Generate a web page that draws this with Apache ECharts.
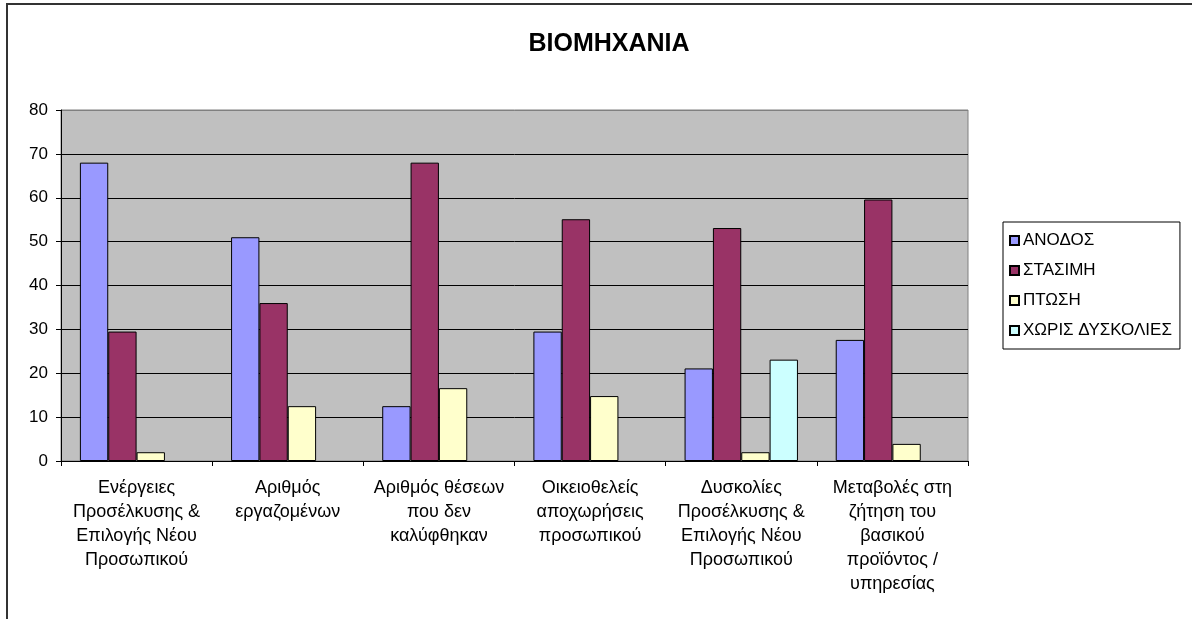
<!DOCTYPE html>
<html>
<head>
<meta charset="utf-8">
<script src="https://cdn.jsdelivr.net/npm/echarts@6/dist/echarts.min.js"></script>
<style>
html,body{margin:0;padding:0;background:#fff;}
#chart{width:1192px;height:619px;}
</style>
</head>
<body>
<div id="chart"></div>
<script>
// data
var categories = [
  'Ενέργειες\nΠροσέλκυσης &\nΕπιλογής Νέου\nΠροσωπικού',
  'Αριθμός\nεργαζομένων',
  'Αριθμός θέσεων\nπου δεν\nκαλύφθηκαν',
  'Οικειοθελείς\nαποχωρήσεις\nπροσωπικού',
  'Δυσκολίες\nΠροσέλκυσης &\nΕπιλογής Νέου\nΠροσωπικού',
  'Μεταβολές στη\nζήτηση του\nβασικού\nπροϊόντος /\nυπηρεσίας'
]
var anodos = [68, 51, 12.5, 29.5, 21.1, 27.6]
var stasimi = [29.5, 36, 68, 55.1, 53.1, 59.6]
var ptosi = [2, 12.5, 16.6, 14.8, 2, 3.9]
var xorisDyskolies = [null, null, null, null, 23.1, null]
var yTicks = [0, 10, 20, 30, 40, 50, 60, 70, 80]

var font = 'Liberation Sans, Arial, sans-serif'

function barSeries (name, data, color) {
  return {
    name: name,
    type: 'bar',
    data: data,
    barGap: 0,
    barCategoryGap: '25%',
    itemStyle: {color: color, borderColor: '#000', borderWidth: 1}
  }
}

// gridlines black, top one grey like the plot border
var gridColors = yTicks.map(function (t, i) { return i === yTicks.length - 1 ? '#808080' : '#000' })

var chart = echarts.init(document.getElementById('chart'))
chart.setOption({
  animation: false,
  backgroundColor: '#fff',
  textStyle: {fontFamily: font},
  graphic: [{
    type: 'rect',
    shape: {x: 7, y: 4, width: 1200, height: 700},
    style: {fill: 'none', stroke: '#333', lineWidth: 2},
    silent: true
  }],
  title: {
    text: 'ΒΙΟΜΗΧΑΝΙΑ',
    left: 604,
    top: 27,
    textAlign: 'center',
    textStyle: {fontFamily: font, fontSize: 25, fontWeight: 'bold', color: '#000'}
  },
  legend: {
    orient: 'vertical',
    left: 1003,
    top: 222,
    padding: [10, 8, 10, 6],
    borderColor: '#000',
    borderWidth: 1,
    itemWidth: 9,
    itemHeight: 9,
    itemGap: 13,
    icon: 'rect',
    textStyle: {fontFamily: font, fontSize: 17, color: '#000', padding: [0, 0, 0, -1]}
  },
  grid: {
    left: 61,
    right: 224,
    top: 110,
    bottom: 158,
    show: true,
    backgroundColor: '#C0C0C0',
    borderColor: '#808080',
    borderWidth: 1
  },
  xAxis: {
    type: 'category',
    data: categories,
    axisLine: {lineStyle: {color: '#000'}},
    axisTick: {show: true, length: 5, lineStyle: {color: '#000'}},
    axisLabel: {
      interval: 0,
      margin: 15,
      fontSize: 18,
      lineHeight: 24,
      color: '#000',
      fontFamily: font
    }
  },
  yAxis: {
    type: 'value',
    min: yTicks[0],
    max: yTicks[yTicks.length - 1],
    interval: 10,
    axisLine: {show: true, lineStyle: {color: '#000'}},
    axisTick: {show: true, length: 5, lineStyle: {color: '#000'}},
    axisLabel: {margin: 13, fontSize: 17, color: '#000', fontFamily: font},
    splitLine: {lineStyle: {color: gridColors, width: 1}}
  },
  series: [
    barSeries('ΑΝΟΔΟΣ', anodos, '#9999FF'),
    barSeries('ΣΤΑΣΙΜΗ', stasimi, '#993366'),
    barSeries('ΠΤΩΣΗ', ptosi, '#FFFFCC'),
    barSeries('ΧΩΡΙΣ ΔΥΣΚΟΛΙΕΣ', xorisDyskolies, '#CCFFFF')
  ]
})
</script>
</body>
</html>
